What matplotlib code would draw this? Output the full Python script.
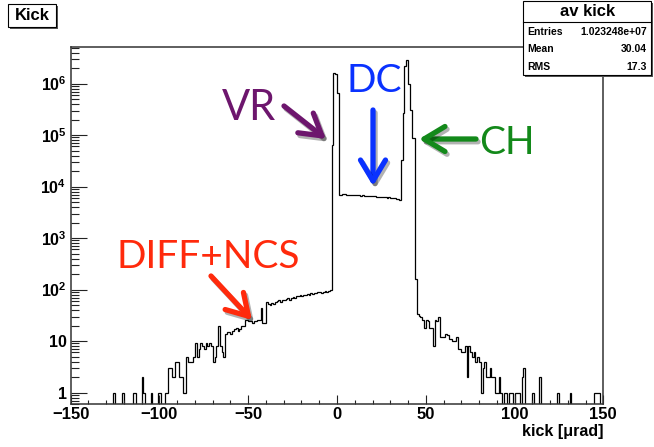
import numpy as np
import matplotlib
matplotlib.use("Agg")
import matplotlib.pyplot as plt
import matplotlib.patheffects as pe
from matplotlib.patches import Rectangle, FancyArrowPatch
from matplotlib.ticker import MultipleLocator, LogLocator, FuncFormatter, NullFormatter

plt.rcParams["font.family"] = ["Liberation Sans", "DejaVu Sans"]
plt.rcParams["mathtext.fontset"] = "custom"
plt.rcParams["mathtext.rm"] = "Liberation Sans:bold"
plt.rcParams["mathtext.bf"] = "Liberation Sans:bold"
plt.rcParams["mathtext.it"] = "Liberation Sans:bold"

# kick histogram, 1 urad bins between -150 and 150
lo, hi = -150, 150

# isolated single counts far in the left tail (bin low edge, count)
tail_left_x = [-126, -121, -115, -114, -110, -109, -105, -101, -100, -97, -96]
tail_left_n = [1, 1, 1, 1, 2, 1, 1, 1, 1, 1, 1]

# rising side, bins -95 ... -4
slope_left = [3, 3, 2, 2, 4, 4, 2, 2, 1, 1,
              5, 4, 4, 4, 5, 9, 5, 7, 9, 8,
              7, 9, 8, 9, 8, 4, 5, 8, 20, 8,
              6, 5, 14, 15, 15, 14, 16, 17, 18, 16,
              17, 20, 20, 26, 26, 24, 24, 22, 24, 24,
              26, 26, 43, 22, 22, 58, 52, 50, 55, 52,
              58, 60, 62, 58, 63, 62, 65, 68, 64, 70,
              72, 70, 75, 74, 78, 76, 80, 78, 82, 80,
              85, 83, 86, 84, 88, 90, 86, 89, 92, 90,
              94, 97]

# volume reflection peak, bins -3 ... 0
vr_peak = [6.5e4, 1.6e6, 1.55e6, 6.5e5]

# dechanneled plateau, bins 1 ... 35
dc_plateau = [7000, 6850, 7050, 7100, 7000, 6950, 6900, 6950, 6850, 6800,
              6850, 6750, 6700, 6750, 6650, 6600, 6650, 6550, 6500, 6450,
              6500, 6400, 6350, 6300, 6350, 6200, 6150, 6100, 6150, 6000,
              5950, 5900, 5800, 5700, 5600]

# channeling peak, bins 36 ... 44
ch_peak = [3.3e4, 2.7e5, 2.2e6, 2.85e6, 1.0e6, 3.1e5, 8.7e4, 8.7e4, 163]

# falling side, bins 45 ... 105
slope_right = [34, 31, 30, 26, 18, 26, 25, 18, 18, 8,
               26, 24, 30, 12, 12, 12, 14, 13, 11, 11,
               10, 10, 12, 7, 7, 6, 6, 8, 2, 8,
               6, 5, 6, 4, 5, 4, 1, 3, 4, 2,
               2, 3, 2, 2, 1, 1, 2, 1, 0, 1,
               1, 0, 1, 1, 0, 1, 1, 1, 0, 2,
               3]

tail_right_x = [110, 114, 124, 131, 145, 146, 147]
tail_right_n = [1, 2, 1, 1, 1, 1, 1]

stat_title = "av kick"
stat_names = ["Entries", "Mean", "RMS"]
stat_values = ["1.023248e+07", "30.04", "17.3"]

counts = np.zeros(hi - lo)


def fill(start, values):
    counts[start - lo:start - lo + len(values)] = values


for x, n in zip(tail_left_x, tail_left_n):
    fill(x, [n])
fill(-95, slope_left)
fill(-3, vr_peak)
fill(1, dc_plateau)
fill(36, ch_peak)
fill(45, slope_right)
for x, n in zip(tail_right_x, tail_right_n):
    fill(x, [n])
edges = np.arange(lo, hi + 1)

W, H = 654, 447


def fxy(px, py):
    return px / W, 1 - py / H


fig = plt.figure(figsize=(W / 100, H / 100), dpi=100)
ax = fig.add_axes([70.7 / W, 1 - 404 / H, (603.3 - 70.7) / W, (404 - 46.7) / H])
ax.set_yscale("log")
ax.stairs(counts, edges, baseline=None, color="black", lw=0.9)
ax.set_xlim(lo, hi)
ax.set_ylim(0.60, 5.2e6)

for s in ax.spines.values():
    s.set_color("#333333")
    s.set_linewidth(1.1)

ax.xaxis.set_major_locator(MultipleLocator(50))
ax.xaxis.set_minor_locator(MultipleLocator(10))
ax.yaxis.set_major_locator(LogLocator(base=10, numticks=20))
ax.yaxis.set_minor_locator(LogLocator(base=10, subs=np.arange(2, 10), numticks=20))
ax.yaxis.set_minor_formatter(NullFormatter())


def decade(v, pos):
    if v < 0.9:
        return ""
    e = int(round(np.log10(v)))
    if e == 0:
        return "1"
    if e == 1:
        return "10"
    return r"$\mathbf{10^{%d}}$" % e


ax.yaxis.set_major_formatter(FuncFormatter(decade))
ax.tick_params(which="both", direction="in", top=False, right=False,
               width=0.8, color="#222222")
ax.tick_params(axis="x", which="major", length=6.5, pad=2, labelsize=12)
ax.tick_params(axis="x", which="minor", length=3.2)
ax.tick_params(axis="y", which="major", length=11.5, pad=3, labelsize=11.5)
ax.tick_params(axis="y", which="minor", length=5.8)
for lab in ax.get_xticklabels() + ax.get_yticklabels():
    lab.set_fontweight("bold")

ax.text(1.0, -0.055, "kick [\u03bcrad]", transform=ax.transAxes, ha="right",
        va="top", fontsize=11.5, fontweight="bold")

# title box with shadow
x0, y0 = fxy(8, 27)
x1, y1 = fxy(56, 4)
dx, dy = 2 / W, 2 / H
fig.add_artist(Rectangle((x0 + dx, y0 - dy), x1 - x0, y1 - y0, transform=fig.transFigure,
                         fc="#555555", ec="none"))
fig.add_artist(Rectangle((x0, y0), x1 - x0, y1 - y0, transform=fig.transFigure,
                         fc="white", ec="black", lw=0.8))
fig.text((x0 + x1) / 2, (y0 + y1) / 2, "Kick", ha="center", va="center",
         fontsize=12, fontweight="bold")

# statistics box
x0, y0 = fxy(523, 75)
x1, y1 = fxy(651, 0.5)
fig.add_artist(Rectangle((x0 + dx, y0 - dy), x1 - x0, y1 - y0, transform=fig.transFigure,
                         fc="#555555", ec="none"))
fig.add_artist(Rectangle((x0, y0), x1 - x0, y1 - y0, transform=fig.transFigure,
                         fc="white", ec="black", lw=0.8))
lx0, ly = fxy(523, 22)
fig.add_artist(plt.Line2D([x0, x1], [ly, ly], transform=fig.transFigure, color="black", lw=0.8))
fig.text(*fxy(588, 11), stat_title, ha="center", va="center", fontsize=12, fontweight="bold")
for i, (name, val) in enumerate(zip(stat_names, stat_values)):
    py = 32 + i * 17.5
    fig.text(*fxy(527, py), name, ha="left", va="center", fontsize=7.5, fontweight="bold")
    fig.text(*fxy(647, py), val, ha="right", va="center", fontsize=7.5, fontweight="bold")

# labels and arrows for the populations
shadow = [pe.SimpleLineShadow(offset=(1.5, -2), shadow_color="black", alpha=0.3), pe.Normal()]
notes = [
    ("VR", "#6d166d", 30, (222, 120), (284, 106), (326, 139)),
    ("DC", "#0a32ff", 28, (346, 92), (373, 110), (373, 186)),
    ("CH", "#13891a", 28, (479, 154), (476, 139), (419, 139)),
    ("DIFF+NCS", "#ff2a0c", 28, (117, 268), (211, 276), (252, 320)),
]
for label, col, size, tpos, tail, tip in notes:
    fig.text(*fxy(*tpos), label, color=col, fontsize=size, family="Lato",
             ha="left", va="baseline")
    arr = FancyArrowPatch(fxy(*tail), fxy(*tip), transform=fig.transFigure,
                          arrowstyle="->,head_length=0.75,head_width=0.45",
                          mutation_scale=20, color=col, lw=3.8,
                          capstyle="round", joinstyle="round",
                          shrinkA=0, shrinkB=0)
    arr.set_path_effects(shadow)
    fig.add_artist(arr)

fig.savefig("out.png", dpi=100)
